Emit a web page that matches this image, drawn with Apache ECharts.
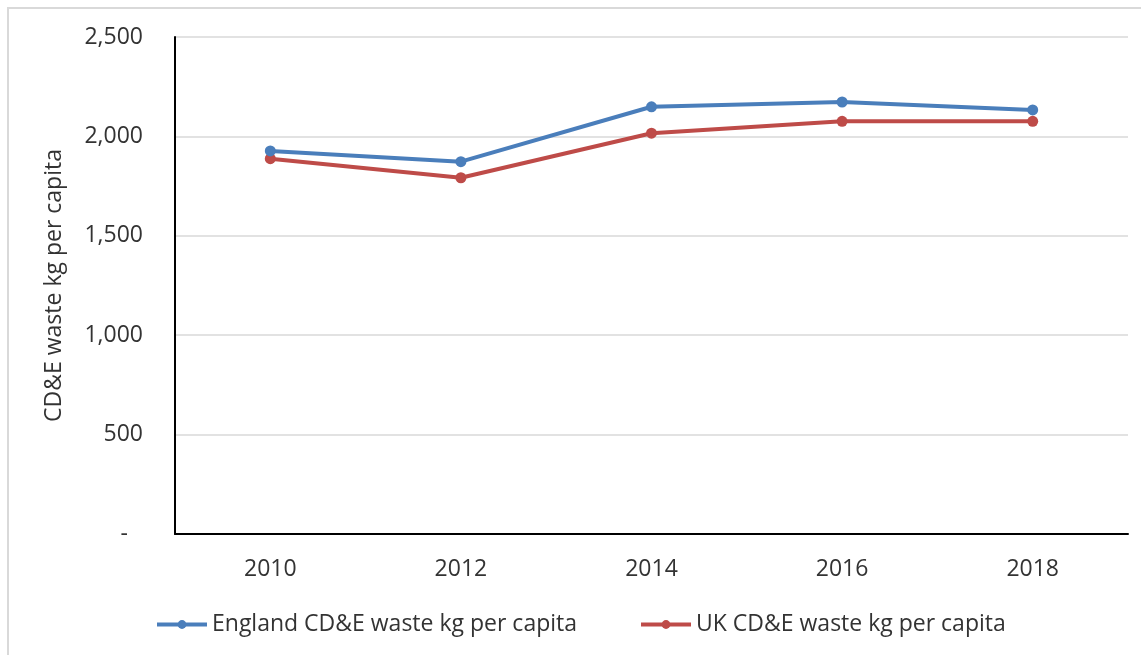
<!DOCTYPE html>
<html>
<head>
<meta charset="utf-8">
<title>CD&amp;E waste kg per capita</title>
<script src="https://cdn.jsdelivr.net/npm/echarts@6/dist/echarts.min.js"></script>
<style>
    html, body { margin: 0; padding: 0; background: #fff; }
    #frame {
        position: absolute; left: 7px; top: 7px;
        width: 1200px; height: 700px;
        border: 2px solid #d9d9d9; box-sizing: border-box;
    }
    #main { position: absolute; left: 0; top: 0; width: 1141px; height: 655px; }
</style>
</head>
<body>
<div id="frame"></div>
<div id="main"></div>
<script>
//数据
var years = ['2010', '2012', '2014', '2016', '2018'];
var englandValues = [1927, 1873, 2149, 2173, 2133];
var ukValues = [1888, 1792, 2016, 2076, 2076];
var seriesNames = ['England CD&E waste kg per capita', 'UK CD&E waste kg per capita'];
var yTicks = [0, 500, 1000, 1500, 2000, 2500];

var font = 'Open Sans';
var fontSize = 23;
var textColor = '#333333';

//千分位格式，0 显示成 "-"
function fmt(v) {
    if (v === 0) {
        return '{d|-}';
    }
    return String(v).replace(/\B(?=(\d{3})+(?!\d))/g, ',');
}

var chart = echarts.init(document.getElementById('main'), null, { renderer: 'canvas' });

var option = {
    backgroundColor: 'transparent',
    animation: false,
    grid: {
        left: 175,
        right: 13,
        top: 37,
        bottom: 121
    },
    legend: {
        left: 155,
        top: 613,
        padding: 0,
        itemWidth: 50,
        itemHeight: 11,
        itemGap: 62,
        lineStyle: { width: 4 },
        textStyle: {
            fontFamily: font,
            fontSize: fontSize,
            color: textColor
        },
        data: seriesNames
    },
    xAxis: {
        type: 'category',
        data: years,
        boundaryGap: true,
        axisLine: { lineStyle: { color: '#000', width: 2 } },
        axisTick: { show: false },
        axisLabel: {
            margin: 24,
            fontFamily: font,
            fontSize: fontSize,
            color: textColor
        }
    },
    yAxis: {
        type: 'value',
        min: yTicks[0],
        max: yTicks[yTicks.length - 1],
        interval: yTicks[1] - yTicks[0],
        name: 'CD&E waste kg per capita',
        nameLocation: 'middle',
        nameGap: 109,
        nameTextStyle: {
            fontFamily: font,
            fontSize: fontSize,
            color: textColor
        },
        axisLine: { show: true, lineStyle: { color: '#000', width: 2 } },
        axisTick: { show: false },
        splitLine: { lineStyle: { color: '#d9d9d9', width: 1.5 } },
        axisLabel: {
            margin: 32,
            fontFamily: font,
            fontSize: fontSize,
            color: textColor,
            formatter: fmt,
            rich: {
                d: {
                    fontFamily: font,
                    fontSize: fontSize,
                    color: textColor,
                    padding: [0, 15, 0, 0]
                }
            }
        }
    },
    series: [{
        name: seriesNames[0],
        type: 'line',
        data: englandValues,
        symbol: 'circle',
        symbolSize: 11,
        lineStyle: { width: 4, color: '#4a7ebb' },
        itemStyle: { color: '#4a7ebb' },
        z: 3
    }, {
        name: seriesNames[1],
        type: 'line',
        data: ukValues,
        symbol: 'circle',
        symbolSize: 11,
        lineStyle: { width: 4, color: '#be4b48' },
        itemStyle: { color: '#be4b48' },
        z: 2
    }]
};

chart.setOption(option);
</script>
</body>
</html>
